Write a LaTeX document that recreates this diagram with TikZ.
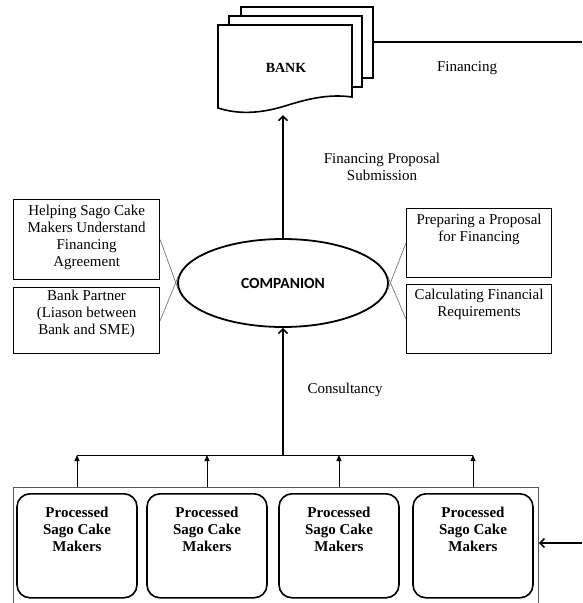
\documentclass[tikz,border=0pt]{standalone}
\usepackage{fontspec}
\setmainfont{Liberation Serif}
\newfontfamily\compfont{Carlito}
\usetikzlibrary{arrows.meta,shapes.geometric}
\newcommand{\boxtext}[4]{\parbox[c][#2][t]{#1}{\centering\vspace*{#3}\strut#4}}
\begin{document}
\begin{tikzpicture} [x = 1pt, y = -1pt,
	font = \fontsize{15}{17}\selectfont,
	infobox/.style = {draw, line width = 1.2pt, inner sep = 0pt, anchor = north west},
	makerbox/.style = {draw, line width = 1.6pt, rounded corners = 13pt, inner sep = 0pt, anchor = north, font = \fontsize{15}{17}\selectfont\bfseries},
	mainarrow/.style = {line width = 1.6pt, -{Straight Barb[length = 4.5pt, width = 9pt]}},
	branch/.style = {line width = 1pt, -{Triangle[length = 6pt, width = 5pt]}},
	link/.style = {gray!80!black, line width = 0.6pt}]
	\useasboundingbox (0,0) rectangle (582,603);
	\clip (0,0) rectangle (582,603);
	% bank documents
	\draw [line width = 1.6pt, fill = white] (241,7) rectangle (373,78);
	\draw [line width = 1.6pt, fill = white] (229,16) rectangle (362,87);
	\draw [line width = 1.6pt, fill = white] (218,25) -- (352,25) -- (352,97)
		.. controls (330,94) and (310,98) .. (285,106)
		.. controls (262,113) and (240,115) .. (218,108) -- cycle;
	\node [font = \fontsize{14}{17}\selectfont\bfseries] (bank) at (286,68) {BANK};
	\coordinate (bankbot) at (283,115);
	\coordinate (docback) at (373,42);
	\coordinate (finend) at (582,42);
	\draw [line width = 1.6pt] (docback) -- (finend);
	\node (fintext) at (467,68) {Financing};
	% companion
	\node [draw, ellipse, line width = 1.8pt, minimum width = 210pt, minimum height = 88pt, font = \fontsize{15.5}{17}\selectfont\compfont\bfseries] (companion) at (283,283) {COMPANION};
	\draw [mainarrow] (companion.north) -- (bankbot);
	\node [align = center] (proposal) at (382,167) {Financing Proposal\\Submission};
	% side boxes
	\node [infobox] (helping) at (13,199) {\boxtext{146pt}{80pt}{4pt}{Helping Sago Cake\\Makers Understand\\Financing\\Agreement}};
	\node [infobox] (partner) at (13,287) {\boxtext{146pt}{66pt}{1pt}{Bank Partner\\(Liason between\\Bank and SME)}};
	\node [infobox] (preparing) at (406,208) {\boxtext{145pt}{69pt}{4pt}{Preparing a Proposal\\for Financing}};
	\node [infobox] (calculating) at (406,284) {\boxtext{145pt}{69pt}{3pt}{Calculating Financial\\Requirements}};
	\draw [link] (helping.east) -- (companion.184);
	\draw [link] (partner.east) -- (companion.176);
	\draw [link] (preparing.west) -- (companion.356);
	\draw [link] (calculating.west) -- (companion.4);
	% sago cake makers
	\node [draw, gray!70!black, line width = 0.8pt, minimum width = 525pt, minimum height = 125pt, anchor = north west] (group) at (13,487) {};
	\foreach \i/\x in {1/77, 2/207, 3/339, 4/473}
		\node [makerbox] (m\i) at (\x,493) {\boxtext{120pt}{104pt}{12pt}{Processed\\Sago Cake\\Makers}};
	\coordinate (fork) at (283,455);
	\draw [line width = 1pt] (m1.north |- fork) -- (m4.north |- fork);
	\foreach \i in {1,...,4}
		\draw [branch] (m\i.north |- group.north) -- (m\i.north |- fork);
	\draw [mainarrow] (fork) -- (companion.south);
	\node (consult) at (345,390) {Consultancy};
	\coordinate (rightin) at (582,543);
	\draw [mainarrow] (rightin) -- (rightin -| group.east);
\end{tikzpicture}
\end{document}
